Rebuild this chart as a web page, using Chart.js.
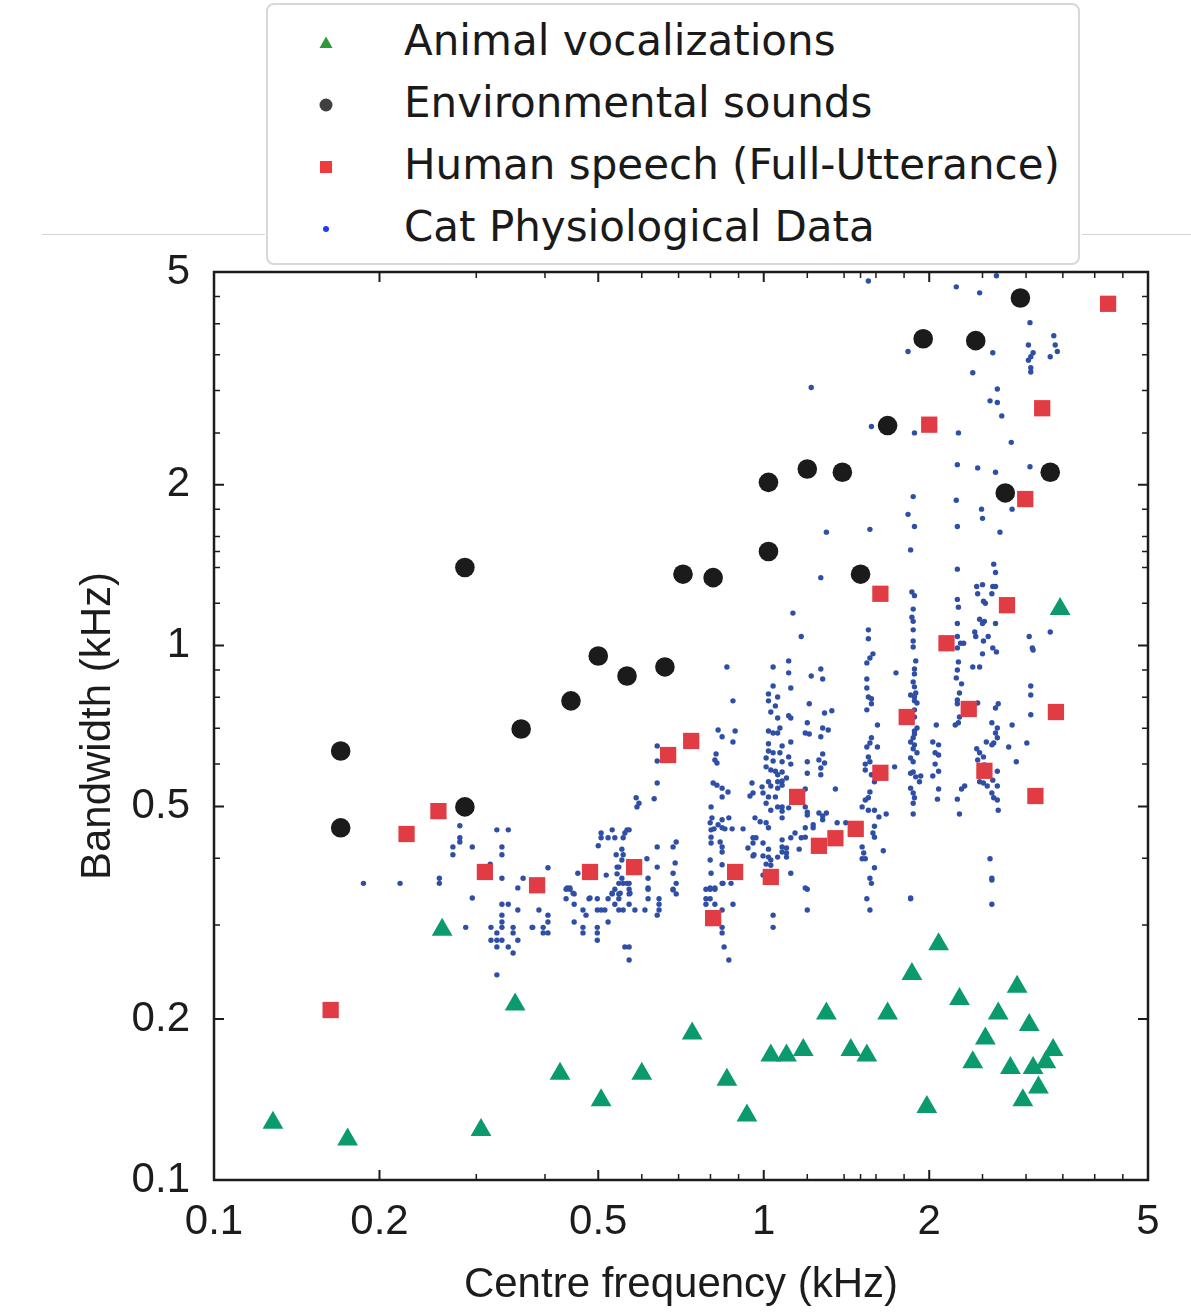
<!DOCTYPE html>
<html>
<head>
<meta charset="utf-8">
<script src="https://cdn.jsdelivr.net/npm/chart.js@4.4.0/dist/chart.umd.min.js"></script>
<style>
  body { margin: 0; background: #fff; }
  #wrap { position: relative; width: 1191px; height: 1314px; overflow: hidden; }
  #c { position: absolute; left: 0; top: 0; }
  .rule { position: absolute; top: 234px; height: 1px; background: #d4d4d4; }
  #legend {
    position: absolute; left: 266px; top: 3px; width: 814px; height: 262px;
    box-sizing: border-box; border: 2px solid #d8d8d8; border-radius: 8px;
    background: #fff; padding-top: 5px;
    font-family: "DejaVu Sans", sans-serif; font-size: 42px; color: #1a1a1a;
  }
  .row { position: relative; height: 62px; line-height: 62px; white-space: nowrap; }
  .row span { position: absolute; left: 136px; top: 0; }
  .row svg { position: absolute; left: 48px; top: 23px; }
</style>
</head>
<body>
<div id="wrap">
  <canvas id="c" width="1191" height="1314"></canvas>
  <div class="rule" style="left:42px;width:223px"></div>
  <div class="rule" style="left:1082px;width:109px"></div>
  <div id="legend"></div>
</div>
<script>
// tick positions on both axes (kHz)
const tickValues = [0.1, 0.2, 0.3, 0.4, 0.5, 0.6, 0.7, 0.8, 0.9, 1, 1.2, 1.4, 1.5, 1.6, 1.8, 2, 2.5, 3, 3.5, 4, 4.5, 5];
const labelledTicks = [0.1, 0.2, 0.5, 1, 2, 5];
const tickLabels = ['0.1', '0.2', '0.5', '1', '2', '5'];

const seriesNames = ['Animal vocalizations', 'Environmental sounds', 'Human speech (Full-Utterance)', 'Cat Physiological Data'];

// [centre frequency kHz, bandwidth kHz]
const animalVocalizations = [
  [0.128,0.128],[0.175,0.119],[0.260,0.294],[0.306,0.124],[0.353,0.213],[0.426,0.158],[0.506,0.141],
  [0.600,0.158],[0.741,0.188],[0.857,0.154],[0.932,0.132],[1.03,0.171],[1.10,0.171],[1.18,0.175],
  [1.30,0.205],[1.44,0.175],[1.54,0.171],[1.68,0.205],[1.86,0.243],[1.98,0.137],[2.08,0.276],
  [2.27,0.218],[2.40,0.166],[2.53,0.184],[2.67,0.205],[2.81,0.162],[2.89,0.230],[2.96,0.141],
  [3.04,0.195],[3.09,0.162],[3.16,0.149],[3.26,0.166],[3.36,0.175],[3.46,1.17]
];

const environmentalSounds = [
  [0.170,0.635],[0.170,0.456],[0.286,1.40],[0.286,0.499],[0.362,0.698],[0.446,0.788],[0.500,0.956],
  [0.564,0.877],[0.661,0.912],[0.713,1.36],[0.809,1.34],[1.02,2.02],[1.02,1.50],[1.20,2.14],
  [1.39,2.11],[1.50,1.36],[1.68,2.58],[1.95,3.75],[2.43,3.72],[2.75,1.93],[2.93,4.47],[3.32,2.11]
];

const humanSpeech = [
  [0.163,0.208],[0.224,0.444],[0.256,0.490],[0.311,0.377],[0.387,0.356],[0.483,0.377],[0.581,0.385],
  [0.670,0.624],[0.738,0.663],[0.809,0.309],[0.887,0.377],[1.03,0.369],[1.15,0.521],[1.26,0.422],
  [1.35,0.436],[1.47,0.454],[1.63,0.578],[1.63,1.25],[1.82,0.735],[2.00,2.59],[2.15,1.01],
  [2.36,0.761],[2.52,0.583],[2.77,1.19],[2.99,1.88],[3.12,0.523],[3.21,2.78],[3.40,0.751],[4.23,4.36]
];

const catPhysiological = [
  [0.187,0.359],[0.218,0.359],[0.257,0.367],[0.257,0.359],[0.280,0.460],[0.280,0.437],[0.280,0.429],
  [0.272,0.420],[0.272,0.406],[0.295,0.420],[0.327,0.452],[0.343,0.452],[0.334,0.420],[0.334,0.406],
  [0.318,0.390],[0.334,0.367],[0.365,0.367],[0.357,0.352],[0.295,0.337],[0.334,0.328],[0.343,0.328],
  [0.357,0.320],[0.334,0.313],[0.334,0.304],[0.334,0.297],[0.287,0.297],[0.319,0.297],[0.350,0.297],
  [0.379,0.297],[0.327,0.290],[0.350,0.290],[0.319,0.281],[0.327,0.281],[0.334,0.281],[0.357,0.281],
  [0.327,0.273],[0.343,0.273],[0.350,0.266],[0.327,0.242],
  [0.437,0.350],[0.444,0.350],[0.452,0.343],[0.437,0.336],[0.481,0.336],[0.498,0.336],[0.452,0.328],
  [0.390,0.320],[0.405,0.313],[0.405,0.304],[0.380,0.297],[0.397,0.297],[0.397,0.290],[0.405,0.290],
  [0.469,0.320],[0.475,0.313],[0.498,0.320],[0.506,0.320],[0.514,0.320],[0.452,0.304],[0.469,0.297],
  [0.469,0.290],[0.498,0.297],[0.498,0.290],[0.498,0.281],[0.521,0.304],[0.521,0.336],[0.530,0.343],
  [0.536,0.350],[0.545,0.359],[0.555,0.359],[0.569,0.359],[0.569,0.350],[0.569,0.343],[0.545,0.343],
  [0.545,0.336],[0.536,0.328],[0.545,0.320],[0.555,0.320],[0.569,0.328],[0.583,0.320],[0.608,0.320],
  [0.616,0.336],[0.616,0.350],[0.645,0.336],[0.645,0.328],[0.645,0.320],[0.640,0.313],[0.693,0.359],
  [0.684,0.350],[0.693,0.343],[0.559,0.273],[0.569,0.273],[0.569,0.258],[0.785,0.350],[0.799,0.350],
  [0.815,0.350],[0.785,0.336],[0.799,0.336],[0.785,0.328],[0.815,0.328],[0.840,0.359],[0.872,0.359],
  [0.840,0.320],[0.879,0.328],[0.840,0.297],[0.840,0.290],[0.847,0.273],[0.864,0.258],[1.04,0.313],
  [1.04,0.297],[1.20,0.350],[1.20,0.320],[1.57,0.359],[1.54,0.336],[1.56,0.320],[1.85,0.336],
  [2.60,0.364],[2.60,0.328],
  [1.13,1.15],[1.17,1.04],[1.11,0.936],[1.04,0.912],[1.11,0.889],[0.857,0.912],[1.27,0.904],
  [1.22,0.877],[1.28,0.866],[1.04,0.840],[1.12,0.833],[1.02,0.812],[1.06,0.801],[1.02,0.788],
  [1.05,0.771],[0.879,0.788],[1.21,0.778],[1.29,0.748],[1.33,0.755],[1.03,0.751],[1.06,0.732],
  [1.11,0.739],[1.12,0.732],[1.20,0.717],[1.19,0.686],[1.21,0.683],[1.28,0.701],[1.31,0.695],
  [1.27,0.675],[1.02,0.692],[1.04,0.686],[1.06,0.686],[1.07,0.701],[1.12,0.660],[0.887,0.692],
  [0.826,0.695],[0.840,0.675],[0.879,0.660],[1.02,0.655],[1.08,0.649],[1.02,0.635],[1.04,0.630],
  [1.07,0.630],[1.01,0.616],[1.01,0.593],[1.04,0.608],[1.08,0.606],[1.11,0.619],[1.12,0.600],
  [1.03,0.585],[1.05,0.582],[1.08,0.580],[1.06,0.573],[1.10,0.565],[1.08,0.558],[1.06,0.556],
  [1.02,0.556],[1.03,0.546],[1.08,0.548],[1.06,0.541],[0.993,0.544],[0.952,0.553],[0.997,0.530],
  [1.02,0.521],[1.05,0.521],[0.956,0.530],[0.944,0.523],[1.01,0.507],[1.06,0.499],[1.08,0.499],
  [1.11,0.497],[1.08,0.490],[1.03,0.492],[1.08,0.476],[0.964,0.476],[0.985,0.468],[1.01,0.466],
  [1.02,0.456],[0.968,0.437],[0.956,0.437],[0.997,0.427],[1.02,0.416],[1.02,0.402],[1.01,0.390],
  [0.960,0.406],[1.03,0.397],[1.06,0.402],[1.12,0.437],[1.14,0.446],[1.17,0.437],[1.08,0.433],
  [1.08,0.420],[1.08,0.411],[1.10,0.409],[1.10,0.418],[1.10,0.402],[1.16,0.416],[1.19,0.438],
  [1.19,0.456],[1.23,0.456],[1.23,0.462],[1.20,0.488],[1.19,0.499],[1.20,0.482],[1.26,0.486],
  [1.28,0.480],[1.30,0.486],[1.28,0.472],[1.35,0.539],[1.19,0.539],[1.20,0.606],[1.20,0.577],
  [1.26,0.611],[1.27,0.590],[1.27,0.573],[1.29,0.603],[1.28,0.627],[1.36,0.466],[1.41,0.466],
  [1.12,0.375],[1.19,0.352],[1.03,0.388],[0.997,0.372],
  [0.640,0.649],[0.640,0.608],[0.640,0.553],[0.632,0.517],[0.586,0.519],[0.593,0.507],[0.588,0.499],
  [0.819,0.627],[0.822,0.603],[0.815,0.611],[0.809,0.553],[0.822,0.548],[0.840,0.541],[0.840,0.521],
  [0.861,0.532],[0.802,0.499],[0.805,0.476],[0.799,0.466],[0.802,0.452],[0.802,0.438],[0.812,0.454],
  [0.826,0.462],[0.840,0.472],[0.840,0.456],[0.850,0.454],[0.864,0.476],[0.876,0.454],[0.917,0.454],
  [0.802,0.427],[0.833,0.429],[0.840,0.420],[0.840,0.411],[0.799,0.397],[0.802,0.375],[0.799,0.352],
  [0.815,0.352],[0.840,0.389],[0.843,0.359],[0.956,0.404],[0.997,0.404],[0.936,0.418],[0.956,0.427],
  [0.506,0.446],[0.530,0.452],[0.521,0.437],[0.506,0.437],[0.500,0.422],[0.536,0.437],[0.555,0.437],
  [0.564,0.452],[0.569,0.452],[0.559,0.446],[0.552,0.416],[0.539,0.406],[0.555,0.406],[0.552,0.397],
  [0.541,0.385],[0.545,0.385],[0.541,0.374],[0.552,0.367],[0.564,0.359],[0.571,0.344],[0.548,0.344],
  [0.530,0.344],[0.517,0.372],[0.613,0.399],[0.616,0.367],[0.616,0.352],[0.640,0.420],[0.640,0.385],
  [0.684,0.420],[0.693,0.429],[0.690,0.392],[0.684,0.375],[0.684,0.349],[0.459,0.375],[0.405,0.384],
  [0.439,0.352],[0.444,0.352],[0.450,0.344],[0.483,0.337],
  [1.55,1.07],[1.55,1.03],[1.58,0.965],[1.56,0.948],[1.54,0.928],[1.54,0.866],[1.54,0.833],
  [1.55,0.801],[1.57,0.795],[1.57,0.778],[1.54,0.758],[1.61,0.710],[1.57,0.672],[1.56,0.657],
  [1.54,0.646],[1.61,0.646],[1.55,0.619],[1.56,0.606],[1.53,0.600],[1.53,0.585],[1.57,0.573],
  [1.59,0.556],[1.56,0.532],[1.55,0.519],[1.53,0.514],[1.51,0.499],[1.55,0.492],[1.59,0.492],
  [1.62,0.478],[1.67,0.484],[1.59,0.459],[1.59,0.438],[1.58,0.446],[1.51,0.420],[1.52,0.409],
  [1.51,0.399],[1.53,0.399],[1.65,0.413],[1.59,0.384],[1.56,0.367],[1.73,0.593],[1.74,0.889],
  [1.86,1.26],[1.88,1.24],[1.87,1.17],[1.86,1.13],[1.87,1.11],[1.87,1.07],[1.87,1.02],[1.87,0.994],
  [1.89,0.936],[1.88,0.904],[1.88,0.885],[1.87,0.855],[1.88,0.837],[1.85,0.808],[1.88,0.801],
  [1.89,0.815],[1.88,0.788],[1.90,0.781],[1.88,0.758],[1.88,0.735],[1.90,0.701],[1.88,0.692],
  [1.88,0.683],[1.87,0.672],[1.85,0.660],[1.88,0.652],[1.87,0.641],[1.90,0.630],[1.85,0.616],
  [1.87,0.606],[1.87,0.580],[1.85,0.577],[1.89,0.568],[1.93,0.570],[1.92,0.556],[1.85,0.541],
  [1.87,0.530],[1.88,0.519],[1.87,0.507],[1.87,0.484],[1.85,0.337],
  [2.06,0.710],[2.03,0.660],[2.08,0.652],[2.05,0.630],[2.08,0.624],[2.05,0.600],[2.08,0.582],
  [2.03,0.570],[2.08,0.539],[2.07,0.516],
  [2.25,1.22],[2.26,1.18],[2.25,1.10],[2.25,1.04],[2.28,1.01],[2.31,1.01],[2.25,0.990],[2.26,0.932],
  [2.25,0.900],[2.24,0.870],[2.29,0.848],[2.27,0.815],[2.25,0.791],[2.25,0.778],[2.27,0.735],
  [2.23,0.710],[2.26,0.717],[2.32,0.546],[2.29,0.539],[2.25,0.516],[2.27,0.484],
  [2.44,1.29],[2.50,1.30],[2.45,1.25],[2.51,1.21],[2.53,1.20],[2.61,1.29],[2.60,1.25],[2.47,1.12],
  [2.52,1.11],[2.50,1.10],[2.64,1.10],[2.42,1.06],[2.43,1.04],[2.56,1.04],[2.51,1.02],[2.61,0.990],
  [2.65,0.973],[2.50,0.965],[2.40,0.912],[2.47,0.912],[2.45,0.781],[2.64,0.764],[2.67,0.778],
  [2.60,0.717],[2.66,0.701],[2.64,0.686],[2.54,0.660],[2.62,0.657],[2.66,0.672],[2.60,0.652],
  [2.44,0.641],[2.47,0.630],[2.51,0.619],[2.45,0.611],[2.52,0.598],[2.66,0.582],[2.47,0.556],
  [2.51,0.553],[2.55,0.546],[2.61,0.560],[2.66,0.546],[2.60,0.530],[2.62,0.519],[2.66,0.514],
  [2.67,0.492],[2.58,0.399],[2.60,0.367],
  [2.83,0.710],[2.79,0.646],[2.88,0.606],[3.01,0.657],[3.04,1.04],[3.08,0.990],[3.09,0.981],
  [3.06,0.840],[3.06,0.808],[3.06,0.742],[3.32,1.06],
  [1.55,4.81],[2.24,4.69],[2.47,4.57],[2.65,4.92],[3.05,4.02],[3.03,3.65],[3.09,3.53],[3.06,3.47],
  [3.03,3.42],[3.06,3.31],[3.06,3.25],[3.37,3.80],[3.39,3.65],[3.42,3.55],[3.32,3.47],[1.83,3.55],
  [2.61,3.53],[2.40,3.24],[2.66,3.02],[2.58,2.87],[2.66,2.85],[2.71,2.69],[2.82,2.40],[1.57,2.57],
  [1.88,2.50],[2.26,2.50],[2.25,2.18],[2.45,2.15],[2.64,2.11],[3.05,2.16],[1.87,1.90],[2.24,1.87],
  [2.49,1.80],[2.50,1.73],[2.83,1.80],[1.83,1.76],[1.88,1.67],[2.25,1.67],[1.56,1.65],[2.69,1.63],
  [1.85,1.51],[2.25,1.39],[2.62,1.42],[2.64,1.37],[2.64,1.29],[1.22,3.04],[1.30,1.63],[1.27,1.34]
];

const toXY = arr => arr.map(([x, y]) => ({ x, y }));

// 凡例 (HTML)
const legendMarks = [
  '<polygon points="3.5,15 16.5,15 10,3.5" fill="#2e9a3c"/>',
  '<circle cx="10" cy="10" r="6.5" fill="#404040"/>',
  '<rect x="4" y="4" width="12" height="12" fill="#ef3a3e"/>',
  '<circle cx="10" cy="10" r="3" fill="#2138ff"/>'
];
document.getElementById('legend').innerHTML = seriesNames.map((name, i) =>
  `<div class="row"><svg width="20" height="20">${legendMarks[i]}</svg><span>${name}</span></div>`
).join('');

const axisFont = { family: '"Liberation Sans", Arial, sans-serif', size: 42 };
const ink = '#1c1c1c';

// 枠と内向きの目盛り
const frameTicks = {
  id: 'frameTicks',
  afterDatasetsDraw(chart) {
    const { ctx, chartArea: a, scales: { x, y } } = chart;
    ctx.save();
    ctx.strokeStyle = ink;
    tickValues.forEach(v => {
      const major = labelledTicks.includes(v);
      const len = major ? 10 : 6;
      ctx.lineWidth = major ? 2 : 1.5;
      const px = x.getPixelForValue(v);
      const py = y.getPixelForValue(v);
      ctx.beginPath();
      ctx.moveTo(px, a.bottom); ctx.lineTo(px, a.bottom - len);
      ctx.moveTo(px, a.top); ctx.lineTo(px, a.top + len);
      ctx.moveTo(a.left, py); ctx.lineTo(a.left + len, py);
      ctx.moveTo(a.right, py); ctx.lineTo(a.right - len, py);
      ctx.stroke();
    });
    ctx.lineWidth = 2.5;
    ctx.strokeRect(a.left, a.top, a.right - a.left, a.bottom - a.top);
    ctx.restore();
  }
};

const logAxis = (extra) => Object.assign({
  type: 'logarithmic',
  min: 0.1,
  max: 5,
  afterBuildTicks: axis => { axis.ticks = tickValues.map(v => ({ value: v })); },
  grid: { display: false },
  border: { display: false },
}, extra);

new Chart(document.getElementById('c'), {
  type: 'scatter',
  data: {
    datasets: [
      {
        label: seriesNames[0], data: toXY(animalVocalizations),
        pointStyle: 'triangle', pointRadius: 12, pointBorderWidth: 0,
        pointBackgroundColor: '#0b9a6e', pointBorderColor: '#0b9a6e'
      },
      {
        label: seriesNames[1], data: toXY(environmentalSounds),
        pointStyle: 'circle', pointRadius: 9.8, pointBorderWidth: 0,
        pointBackgroundColor: '#1b1b1b', pointBorderColor: '#1b1b1b'
      },
      {
        label: seriesNames[2], data: toXY(humanSpeech),
        pointStyle: 'rect', pointRadius: 11.5, pointBorderWidth: 0,
        pointBackgroundColor: '#e13b43', pointBorderColor: '#e13b43'
      },
      {
        label: seriesNames[3], data: toXY(catPhysiological),
        pointStyle: 'circle', pointRadius: 2.7, pointBorderWidth: 0,
        pointBackgroundColor: '#2f4ea6', pointBorderColor: '#2f4ea6'
      }
    ]
  },
  options: {
    responsive: false,
    devicePixelRatio: 1,
    animation: false,
    events: [],
    layout: { padding: { top: 272, right: 43, bottom: 0, left: 0 } },
    plugins: { legend: { display: false }, tooltip: { enabled: false } },
    scales: {
      x: logAxis({
        afterFit: s => { s.height = 134; },
        ticks: {
          autoSkip: false, maxRotation: 0, padding: 9, color: ink, font: axisFont,
          callback: v => tickLabels[labelledTicks.indexOf(v)] ?? ''
        },
        title: { display: true, text: 'Centre frequency (kHz)', color: ink, font: axisFont, padding: { top: 0, bottom: 3 } }
      }),
      y: logAxis({
        afterFit: s => { s.width = 214; },
        ticks: {
          autoSkip: false, padding: 16, color: ink, font: axisFont,
          callback: v => tickLabels[labelledTicks.indexOf(v)] ?? ''
        },
        title: { display: true, text: 'Bandwidth (kHz)', color: ink, font: axisFont, padding: { top: 73, bottom: 0 } }
      })
    }
  },
  plugins: [frameTicks]
});
</script>
</body>
</html>
